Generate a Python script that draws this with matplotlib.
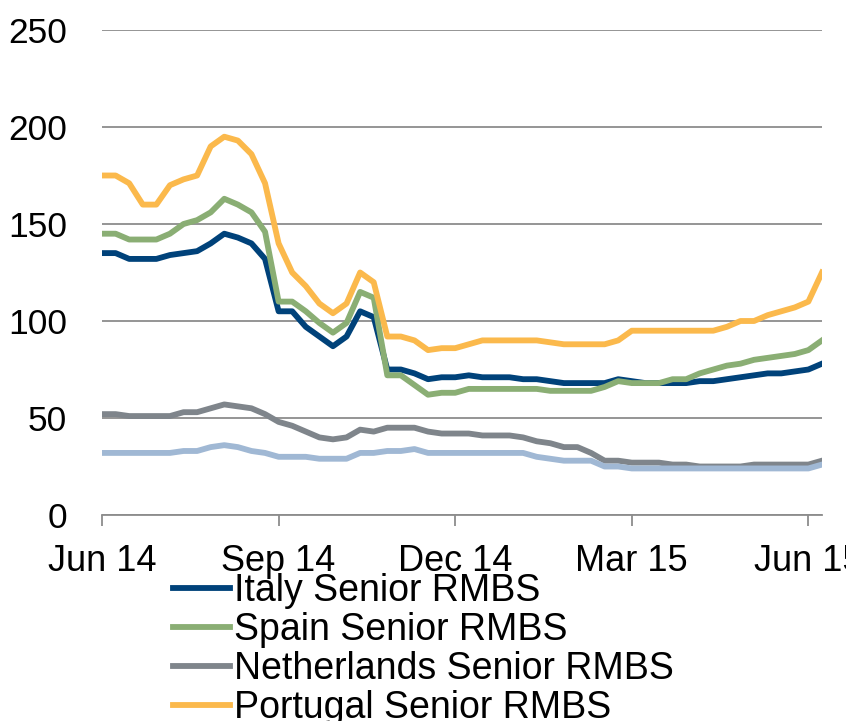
import matplotlib
matplotlib.use("Agg")
from matplotlib import pyplot as plt

plt.rcParams['font.family'] = ['Liberation Sans', 'DejaVu Sans']

# weekly spreads, Jun 14 .. Jun 15
tick_pos = [0, 13, 26, 39, 52]
tick_labels = ["Jun 14", "Sep 14", "Dec 14", "Mar 15", "Jun 15"]

italy = [135, 135, 132, 132, 132, 134, 135, 136, 140, 145, 143, 140, 132, 105, 105, 97, 92, 87, 92, 105,
         102, 75, 75, 73, 70, 71, 71, 72, 71, 71, 71, 70, 70, 69, 68, 68, 68, 68, 70, 69,
         68, 68, 68, 68, 69, 69, 70, 71, 72, 73, 73, 74, 75, 78]
spain = [145, 145, 142, 142, 142, 145, 150, 152, 156, 163, 160, 156, 146, 110, 110, 105, 99, 94, 99, 115,
         112, 72, 72, 67, 62, 63, 63, 65, 65, 65, 65, 65, 65, 64, 64, 64, 64, 66, 69, 68,
         68, 68, 70, 70, 73, 75, 77, 78, 80, 81, 82, 83, 85, 90]
netherlands = [52, 52, 51, 51, 51, 51, 53, 53, 55, 57, 56, 55, 52, 48, 46, 43, 40, 39, 40, 44,
               43, 45, 45, 45, 43, 42, 42, 42, 41, 41, 41, 40, 38, 37, 35, 35, 32, 28, 28, 27,
               27, 27, 26, 26, 25, 25, 25, 25, 26, 26, 26, 26, 26, 28]
portugal = [175, 175, 171, 160, 160, 170, 173, 175, 190, 195, 193, 186, 171, 140, 125, 118, 109, 104, 109, 125,
            120, 92, 92, 90, 85, 86, 86, 88, 90, 90, 90, 90, 90, 89, 88, 88, 88, 88, 90, 95,
            95, 95, 95, 95, 95, 95, 97, 100, 100, 103, 105, 107, 110, 125]
other = [32, 32, 32, 32, 32, 32, 33, 33, 35, 36, 35, 33, 32, 30, 30, 30, 29, 29, 29, 32,
         32, 33, 33, 34, 32, 32, 32, 32, 32, 32, 32, 32, 30, 29, 28, 28, 28, 25, 25, 24,
         24, 24, 24, 24, 24, 24, 24, 24, 24, 24, 24, 24, 24, 26]

weeks = list(range(len(italy)))

fig = plt.figure(figsize=(8.46, 7.21), dpi=100)
ax = fig.add_axes([0.1206, 0.2857, 0.851, 0.6727])

lw = 4.2
l1, = ax.plot(weeks, italy, color="#00427a", lw=lw, label="Italy Senior RMBS")
l2, = ax.plot(weeks, spain, color="#8aae74", lw=lw, label="Spain Senior RMBS")
l3, = ax.plot(weeks, netherlands, color="#7f858b", lw=lw, label="Netherlands Senior RMBS")
l4, = ax.plot(weeks, portugal, color="#fbb94c", lw=lw, label="Portugal Senior RMBS")
ax.plot(weeks, other, color="#a0b8d4", lw=lw)

ax.set_xlim(0, 53)
ax.set_ylim(0, 250)
ax.set_yticks([0, 50, 100, 150, 200, 250])
ax.set_xticks(tick_pos)
ax.set_xticklabels(tick_labels)
ax.yaxis.grid(True, color="#8c8c8c", lw=1.3)
ax.set_axisbelow(True)
for s in ["top", "right", "left"]:
    ax.spines[s].set_visible(False)
ax.spines["bottom"].set_color("#8c8c8c")
ax.spines["bottom"].set_linewidth(1.3)
ax.tick_params(axis="y", length=0, pad=25, labelsize=25.5)
ax.tick_params(axis="x", length=8, width=1.3, color="#8c8c8c", pad=13, labelsize=26)

fig.legend(handles=[l1, l2, l3, l4], loc="upper left", bbox_to_anchor=(0.2045, 0.205),
           frameon=False, fontsize=27, handlelength=1.52, handletextpad=0.11,
           labelspacing=0.08, borderpad=0, borderaxespad=0)

fig.savefig("out.png", dpi=100)
